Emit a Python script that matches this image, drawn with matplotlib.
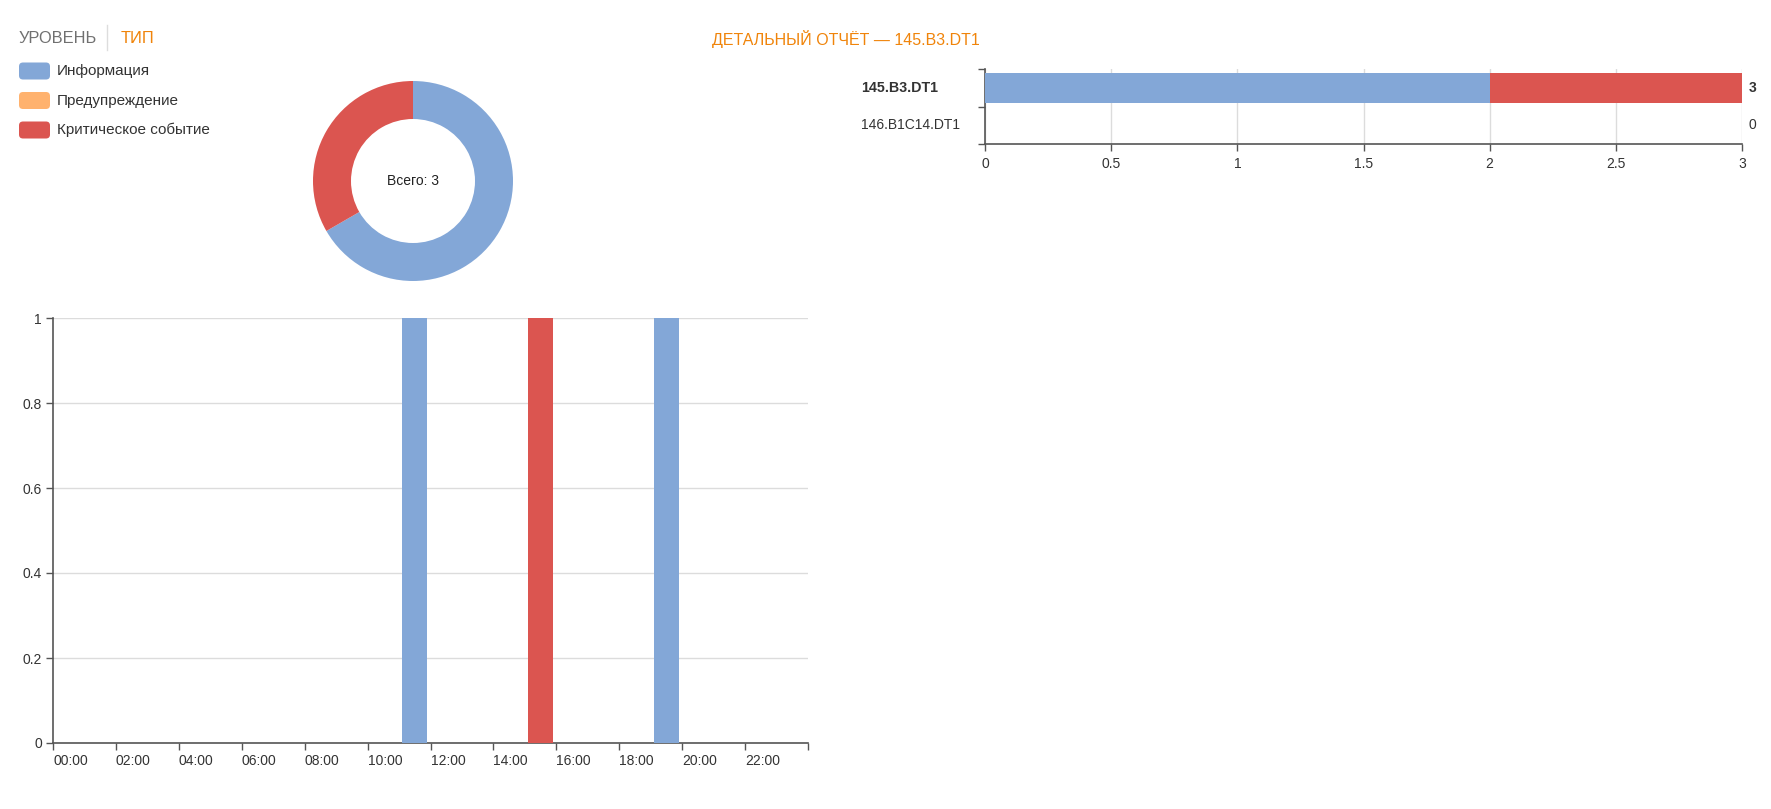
import numpy as np
import matplotlib
matplotlib.use("Agg")
import matplotlib.pyplot as plt
from matplotlib.patches import FancyBboxPatch
from matplotlib import transforms

plt.rcParams['font.family'] = ['Liberation Sans', 'DejaVu Sans']

# ---------------- data ----------------
levels = ["Информация", "Предупреждение", "Критическое событие"]
level_colors = ["#83a7d7", "#ffb26e", "#db5550"]
level_totals = [2, 0, 1]

devices = ["145.B3.DT1", "146.B1C14.DT1"]
dev_info = [2, 0]
dev_warn = [0, 0]
dev_crit = [1, 0]

hour_labels = ["00:00", "02:00", "04:00", "06:00", "08:00", "10:00",
               "12:00", "14:00", "16:00", "18:00", "20:00", "22:00"]
hourly_info = [0, 0, 0, 0, 0, 0, 0, 0, 0, 0, 0, 1,
               0, 0, 0, 0, 0, 0, 0, 1, 0, 0, 0, 0]
hourly_warn = [0] * 24
hourly_crit = [0, 0, 0, 0, 0, 0, 0, 0, 0, 0, 0, 0,
               0, 0, 0, 1, 0, 0, 0, 0, 0, 0, 0, 0]

title_text = "ДЕТАЛЬНЫЙ ОТЧЁТ — 145.B3.DT1"
total_text = "Всего: 3"

W, H = 1771, 809
fig = plt.figure(figsize=(W / 100, H / 100), dpi=100)
fig.patch.set_facecolor("white")

AX = "#555555"
GRID = "#dcdcdc"
TXT = "#333333"
ORANGE = "#f0840a"

def frac(x0, y0, x1, y1):
    return [x0 / W, 1 - y1 / H, (x1 - x0) / W, (y1 - y0) / H]

# overlay for header / legend in pixel coords
ov = fig.add_axes([0, 0, 1, 1], zorder=5)
ov.set_xlim(0, W)
ov.set_ylim(H, 0)
ov.axis("off")
ov.patch.set_alpha(0)

ov.text(19, 38, "УРОВЕНЬ", fontsize=11.8, color="#707070", va="center", ha="left")
ov.plot([107, 107], [25, 50], color="#dddddd", lw=1)
ov.text(121, 38, "ТИП", fontsize=11.8, color=ORANGE, va="center", ha="left")
ov.text(712, 39, title_text, fontsize=11.5, color=ORANGE, va="center", ha="left")

row_y = [71, 100.5, 130]
for name, col, yc in zip(levels, level_colors, row_y):
    ov.add_patch(FancyBboxPatch((19, yc - 8.5), 31, 17,
                                boxstyle="round,pad=0,rounding_size=4",
                                fc=col, ec="none"))
    ov.text(57, yc, name, fontsize=11, color=TXT, va="center", ha="left")

# ---------------- donut ----------------
cx, cy, half = 413, 181, 110
ax3 = fig.add_axes(frac(cx - half, cy - half, cx + half, cy + half))
vals = [v for v in level_totals if v > 0]
cols = [c for v, c in zip(level_totals, level_colors) if v > 0]
ax3.pie(vals, colors=cols, startangle=90, counterclock=False, radius=1.0,
        wedgeprops=dict(width=0.38, edgecolor="none"))
ax3.set_xlim(-1.1, 1.1)
ax3.set_ylim(-1.1, 1.1)
ax3.text(0, 0, total_text, ha="center", va="center", fontsize=10, color="#222222")

# ---------------- hourly bar chart ----------------
ax1 = fig.add_axes(frac(53, 318, 808, 743))
hours = np.arange(len(hourly_info))
b1 = np.array(hourly_info)
b2 = np.array(hourly_warn)
b3 = np.array(hourly_crit)
ax1.bar(hours + 0.5, b1, width=0.8, color=level_colors[0], zorder=3)
ax1.bar(hours + 0.5, b2, width=0.8, bottom=b1, color=level_colors[1], zorder=3)
ax1.bar(hours + 0.5, b3, width=0.8, bottom=b1 + b2, color=level_colors[2], zorder=3)
ax1.set_xlim(0, 24)
ax1.set_ylim(0, 1)
ax1.set_xticks(np.arange(0, 25, 2))
ax1.set_xticklabels(hour_labels + [""])
for lab in ax1.get_xticklabels():
    lab.set_horizontalalignment("left")
    lab.set_transform(lab.get_transform() +
                      transforms.ScaledTranslation(-2 / 100, 0, fig.dpi_scale_trans))
ax1.set_yticks([0, 0.2, 0.4, 0.6, 0.8, 1.0])
ax1.set_yticklabels(["0", "0.2", "0.4", "0.6", "0.8", "1"])
ax1.yaxis.grid(True, color=GRID, lw=1, zorder=0)
ax1.set_axisbelow(True)
for s in ["top", "right"]:
    ax1.spines[s].set_visible(False)
for s in ["left", "bottom"]:
    ax1.spines[s].set_color(AX)
    ax1.spines[s].set_linewidth(1.2)
ax1.tick_params(axis="both", colors=AX, length=5, width=1, labelsize=10,
                labelcolor=TXT, pad=3)

# ---------------- device bar chart ----------------
ax2 = fig.add_axes(frac(985, 69, 1742, 144))
yy = np.arange(len(devices))
d1 = np.array(dev_info)
d2 = np.array(dev_warn)
d3 = np.array(dev_crit)
ax2.barh(yy, d1, height=0.8, color=level_colors[0], zorder=3)
ax2.barh(yy, d2, height=0.8, left=d1, color=level_colors[1], zorder=3)
ax2.barh(yy, d3, height=0.8, left=d1 + d2, color=level_colors[2], zorder=3)
ax2.set_xlim(0, 3)
ax2.set_ylim(len(devices) - 0.5, -0.5)
ax2.set_xticks([0, 0.5, 1, 1.5, 2, 2.5, 3])
ax2.set_xticklabels(["0", "0.5", "1", "1.5", "2", "2.5", "3"])
ax2.set_yticks(np.arange(-0.5, len(devices), 1.0))
ax2.set_yticklabels([])
ax2.xaxis.grid(True, color=GRID, lw=1, zorder=0)
ax2.set_axisbelow(True)
for s in ["top", "right"]:
    ax2.spines[s].set_visible(False)
for s in ["left", "bottom"]:
    ax2.spines[s].set_color(AX)
    ax2.spines[s].set_linewidth(1.2)
ax2.tick_params(axis="both", colors=AX, length=5, width=1, labelsize=10,
                labelcolor=TXT, pad=4)

tr = transforms.blended_transform_factory(ov.transData, ax2.transData)
totals = d1 + d2 + d3
for i, (name, tot) in enumerate(zip(devices, totals)):
    w = "bold" if i == 0 else "normal"
    ax2.text(861, i, name, transform=tr, ha="left", va="center",
             fontsize=10.3 if i == 0 else 10, color=TXT, fontweight=w)
    ax2.text(1749, i, str(tot), transform=tr, ha="left", va="center",
             fontsize=10, color=TXT, fontweight=w)

fig.savefig("out.png", dpi=100, facecolor="white")
